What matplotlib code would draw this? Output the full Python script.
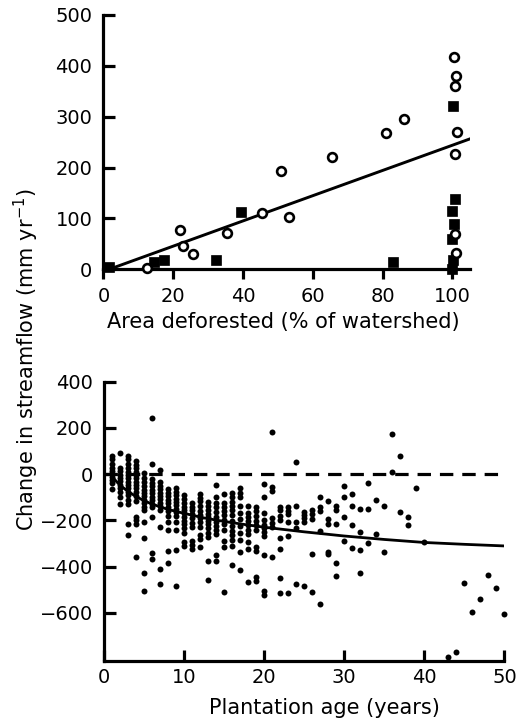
"""
plot.py: streamflow change vs. area deforested (top) and vs. plantation age (bottom).
"""
import matplotlib
matplotlib.use("Agg")
import matplotlib.pyplot as plt

OUTPUT_PATH = "out.png"

# --- Top panel: area deforested (%) vs change in streamflow (mm/yr) ---
open_x = [12.5, 22, 22.7, 25.7, 35.3, 45.5, 50.8, 53.1, 65.4, 81, 86.1,
          100.3, 100.9, 100.8, 101.4, 100.8, 100.8, 100.9]
open_y = [3, 77, 45, 30, 72, 110, 193, 102, 221, 267, 295,
          417, 381, 361, 270, 226, 70, 33]
square_x = [1.6, 14.5, 17.4, 32.2, 39.5, 83.1, 100.1, 100.6, 99.8, 100.5, 99.9, 100.2, 99.8]
square_y = [4.5, 14, 18, 19, 112, 14, 321, 139, 115, 90, 59, 18, 1]

# linear fit
fit_slope = 2.48
fit_intercept = -4
fit_range = [2, 105]

# --- Bottom panel: plantation age (years) vs change in streamflow ---
ages = list(range(1, 41)) + [43, 44, 45, 46, 47, 48, 49, 50]
flow_by_age = [
    [80, 63, 45, 28, 15, 2, -12, -26, -40, -66],
    [90, 28, 12, -3, -18, -32, -47, -62, -77, -100, -130],
    [80, 63, 45, 25, 10, -4, -19, -33, -48, -62, -77, -91, -112, -130, -216, -265],
    [58, 40, 25, 10, -4, -19, -33, -48, -62, -77, -95, -115, -185, -200, -215, -358],
    [5, -18, -35, -52, -67, -82, -97, -112, -127, -142, -155, -206, -275, -430, -505],
    [241, 43, -22, -38, -53, -68, -83, -98, -113, -128, -143, -185, -343, -367],
    [18, -36, -50, -65, -80, -95, -110, -125, -140, -157, -228, -410, -477],
    [-65, -80, -97, -112, -127, -142, -160, -180, -206, -242, -332, -384],
    [-62, -77, -91, -106, -120, -134, -150, -165, -180, -206, -242, -329, -483],
    [-91, -109, -127, -141, -156, -170, -187, -202, -216, -235, -254, -293, -310],
    [-127, -141, -156, -172, -190, -210, -230, -290, -305, -326],
    [-88, -102, -117, -138, -160, -177, -192, -206, -228, -264, -282, -314],
    [-122, -138, -156, -173, -187, -202, -216, -235, -254, -271, -376, -458],
    [-48, -101, -124, -144, -163, -185, -206, -225, -242, -260, -352, -376],
    [-87, -124, -141, -159, -177, -199, -216, -242, -288, -314, -509],
    [-81, -98, -120, -138, -156, -177, -202, -225, -245, -264, -285, -311, -394],
    [-62, -81, -98, -138, -170, -196, -225, -254, -285, -336, -415],
    [-138, -170, -187, -202, -221, -242, -260, -293, -324, -466],
    [-141, -159, -182, -202, -221, -242, -317, -332, -444, -461],
    [-43, -98, -170, -199, -221, -234, -249, -268, -350, -505, -523],
    [183, -55, -72, -192, -213, -231, -358],
    [-141, -156, -182, -200, -275, -324, -448, -513],
    [-144, -160, -175, -206, -268, -513],
    [52, -137, -209, -235, -477],
    [-163, -177, -192, -206, -484],
    [-156, -173, -196, -346, -509],
    [-101, -141, -159, -247, -562],
    [-118, -196, -216, -336, -346],
    [-138, -156, -218, -386, -440],
    [-52, -98, -187, -290],
    [-87, -138, -221, -319],
    [-150, -249, -329, -430],
    [-37, -153, -300],
    [-112, -259],
    [-138, -336],
    [172, 10],
    [79, -163],
    [-187, -221],
    [-59],
    [-296],
    [-790], [-769], [-473], [-598], [-542], [-437], [-492], [-606],
]

# fitted curve, points
curve_x = [0.8, 1.5, 2, 3, 4, 5, 6, 8, 10, 12.5, 15, 17.5, 20, 25, 30, 35, 40, 45, 50]
curve_y = [0, -30, -48, -75, -97, -115, -130, -153, -170, -190, -205, -218, -230,
           -250, -268, -283, -296, -304, -311]


def style_axes(ax, xdir, ydir):
    for side in ("top", "right"):
        ax.spines[side].set_visible(False)
    for side in ("left", "bottom"):
        ax.spines[side].set_linewidth(2.3)
    ax.tick_params(axis="x", direction=xdir, length=8 if xdir == "in" else 7,
                   width=2.3, labelsize=14, pad=5 if xdir == "in" else 6)
    ax.tick_params(axis="y", direction=ydir, length=8.5, width=2.3,
                   labelsize=14, pad=8)


def plot_streamflow():
    fig = plt.figure(figsize=(5.25, 7.23), dpi=100)

    # top panel
    ax1 = fig.add_axes([0.1971, 0.6275, 0.698, 0.3518])
    fx = [fit_range[0], fit_range[1]]
    fy = [fit_slope * v + fit_intercept for v in fx]
    ax1.plot(fx, fy, color="black", lw=2.1, zorder=2)
    ax1.plot(square_x, square_y, ls="none", marker="s", ms=6.8, mfc="black",
             mec="black", mew=0.5, clip_on=False, zorder=3)
    ax1.plot(open_x, open_y, ls="none", marker="o", ms=6.3, mfc="white",
             mec="black", mew=1.9, clip_on=False, zorder=4)
    ax1.set_xlim(0, 105)
    ax1.set_ylim(0, 500)
    ax1.set_xticks([0, 20, 40, 60, 80, 100])
    ax1.set_yticks([0, 100, 200, 300, 400, 500])
    style_axes(ax1, "out", "in")
    ax1.set_xlabel("Area deforested (% of watershed)", fontsize=15, labelpad=4)
    ax1.xaxis.label.set_x(0.49)

    # bottom panel
    ax2 = fig.add_axes([0.1979, 0.0853, 0.7629, 0.387])
    px, py = [], []
    for age, vals in zip(ages, flow_by_age):
        for v in vals:
            px.append(age)
            py.append(v)
    ax2.plot([0, 50], [0, 0], color="black", lw=2.3, ls=(0, (4.2, 2.8)), zorder=1)
    ax2.plot(curve_x, curve_y, color="black", lw=2.0, zorder=2)
    ax2.plot(px, py, ls="none", marker="o", ms=4.3, mfc="black", mec="black",
             mew=0, clip_on=False, zorder=3)
    ax2.set_xlim(0, 50)
    ax2.set_ylim(-810, 400)
    ax2.set_xticks([0, 10, 20, 30, 40, 50])
    ax2.set_yticks([400, 200, 0, -200, -400, -600])
    style_axes(ax2, "in", "in")
    ax2.set_xlabel("Plantation age (years)", fontsize=15, labelpad=8)
    ax2.xaxis.label.set_x(0.551)

    fig.text(0.051, 0.502, r"Change in streamflow (mm yr$^{-1}$)", fontsize=15,
             rotation=90, ha="center", va="center")

    fig.savefig(OUTPUT_PATH, dpi=100)


if __name__ == "__main__":
    plot_streamflow()
